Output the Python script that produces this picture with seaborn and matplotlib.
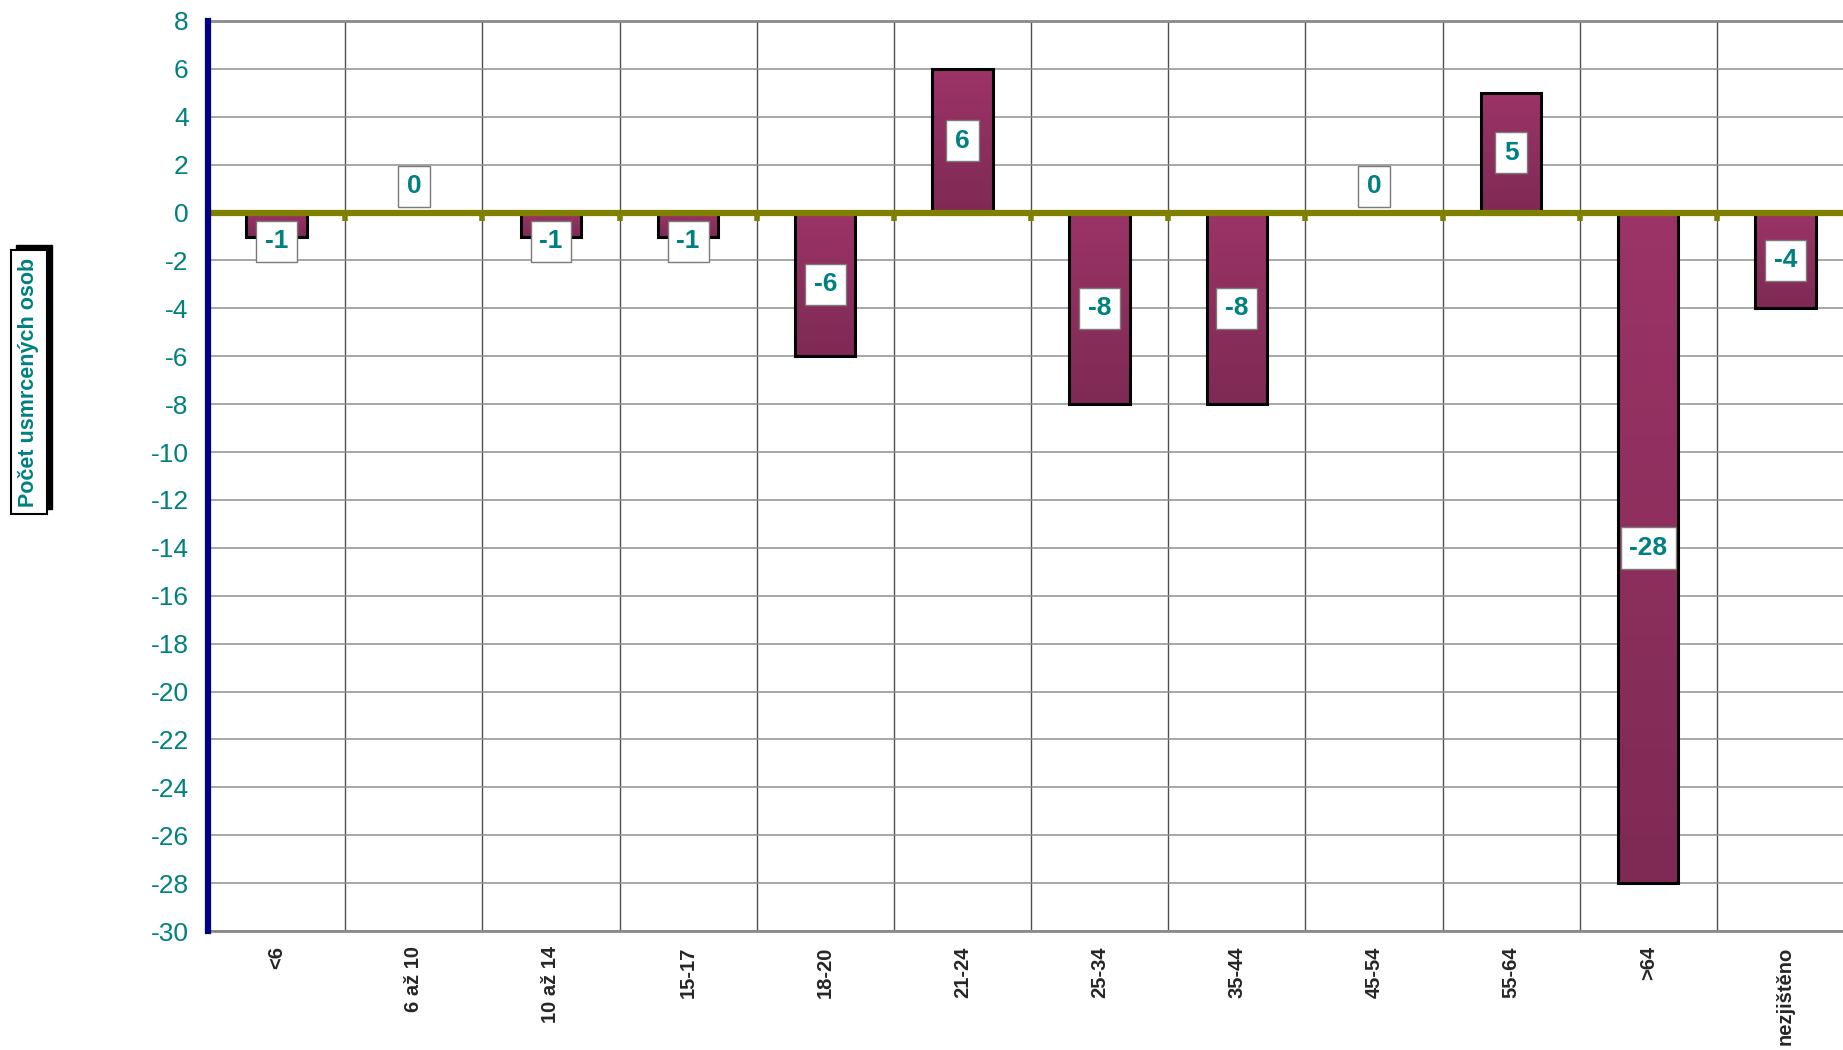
import numpy as np
import pandas as pd
import matplotlib
matplotlib.use("Agg")
import matplotlib.pyplot as plt
from matplotlib.colors import LinearSegmentedColormap
from matplotlib.patches import Rectangle
import seaborn as sns

# Chart data
categories = ['<6', '6 až 10', '10 až 14', '15-17', '18-20', '21-24',
              '25-34', '35-44', '45-54', '55-64', '>64', 'nezjištěno']
values = [-1, 0, -1, -1, -6, 6, -8, -8, 0, 5, -28, -4]
y_ticks = list(range(-30, 9, 2))
y_label = 'Počet usmrcených osob'

df = pd.DataFrame({'vek': categories, 'pocet': values})

sns.set_style("white")
plt.rcParams['font.family'] = ['Liberation Sans', 'DejaVu Sans']

teal = '#008080'
navy = '#000080'
olive = '#808000'

fig = plt.figure(figsize=(18.43, 10.5), dpi=100)
ax = fig.add_axes([0.1129, 0.1133, 0.8931, 0.8667])

sns.barplot(data=df, x='vek', y='pocet', ax=ax, width=0.44,
            color='#8E3060', edgecolor='black', linewidth=2.2,
            saturation=1, zorder=3)

ymin, ymax = -30, 8
ax.set_ylim(ymin, ymax)
ax.set_xlim(-0.5, len(categories) - 0.5)

# gradient fill on bars
cmap = LinearSegmentedColormap.from_list('bar', ['#7E2A54', '#9C3467'])
grad = np.linspace(0, 1, 256).reshape(-1, 1)
for p in ax.patches:
    x0, y0 = p.get_x(), p.get_y()
    w, h = p.get_width(), p.get_height()
    if h == 0:
        p.set_visible(False)
        continue
    lo, hi = min(y0, y0 + h), max(y0, y0 + h)
    im = ax.imshow(grad, cmap=cmap, aspect='auto', origin='lower',
                   extent=[x0, x0 + w, lo, hi], zorder=2.9)
    im.set_clip_path(p)
    p.set_facecolor('none')
ax.set_ylim(ymin, ymax)
ax.set_xlim(-0.5, len(categories) - 0.5)

# grid
ax.set_yticks(y_ticks)
ax.set_yticklabels([str(t) for t in y_ticks], color=teal, fontsize=19)
ax.set_xticks(range(len(categories)))
ax.set_xticks(np.arange(-0.5, len(categories), 1), minor=True)
ax.set_xticklabels(categories, rotation=90, fontsize=14.5, fontweight='bold',
                   va='top', ha='center')
ax.tick_params(axis='x', which='both', length=0, pad=11)
ax.tick_params(axis='y', which='major', direction='out', length=7, width=3,
               color=navy, pad=7)
ax.grid(axis='y', which='major', color='#909090', linewidth=1.1, zorder=0)
ax.grid(axis='x', which='minor', color='#505050', linewidth=1.0, zorder=0)
ax.grid(axis='x', which='major', visible=False)
ax.set_axisbelow(True)

ax.set_xlabel('')
ax.set_ylabel('')

for s in ['top', 'bottom', 'right']:
    ax.spines[s].set_color('#8a8a8a')
    ax.spines[s].set_linewidth(2)
ax.spines['left'].set_color(navy)
ax.spines['left'].set_linewidth(4.5)
ax.spines['left'].set_zorder(6)

# olive category axis at zero
ax.axhline(0, color=olive, linewidth=4.5, zorder=5)
zero_pos = (0 - ymin) / (ymax - ymin)
sec = ax.secondary_xaxis(zero_pos)
sec.set_xticks(np.arange(-0.5, len(categories), 1))
sec.set_xticklabels([])
sec.xaxis.set_ticks_position('bottom')
sec.tick_params(direction='out', length=6, width=4, color=olive)
for s in sec.spines.values():
    s.set_visible(False)
sec.set_zorder(5)

# data labels
for i, v in enumerate(values):
    if abs(v) >= 2:
        ypos = v / 2
    elif v < 0:
        ypos = v - 0.2
    else:
        ypos = 1.1
    ax.text(i, ypos, str(v), ha='center', va='center', color=teal,
            fontsize=19, fontweight='bold', zorder=7,
            bbox=dict(boxstyle='square,pad=0.33', fc='white', ec='#7a7a7a', lw=1))

# y axis title with shadow box
t = fig.text(0.0155, 0.636, y_label, rotation=90, ha='center', va='center',
             fontsize=15.5, fontweight='bold', color=teal, zorder=3,
             bbox=dict(boxstyle='square,pad=0.35', fc='white', ec='black', lw=1.5))
fig.canvas.draw()
bb = t.get_bbox_patch().get_window_extent()
shadow = Rectangle((bb.x0 + 5, bb.y0 + 5), bb.width, bb.height,
                   transform=None, fc='black', ec='black', zorder=2)
fig.patches.append(shadow)

fig.savefig('out.png', dpi=100)
